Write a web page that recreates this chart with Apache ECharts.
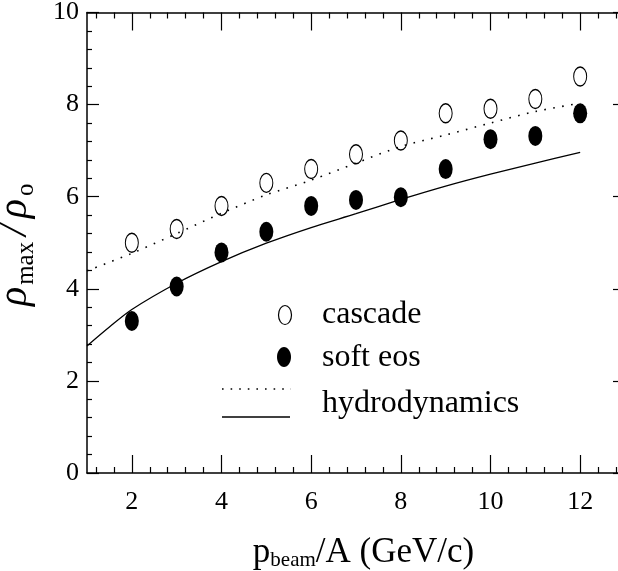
<!DOCTYPE html>
<html>
<head>
<meta charset="utf-8">
<script src="https://cdn.jsdelivr.net/npm/echarts@6/dist/echarts.min.js"></script>
<style>
html,body{margin:0;padding:0;background:#fff;}
#chart{width:618px;height:571px;}
</style>
</head>
<body>
<div id="chart"></div>
<script>
// ---- data ----
var beamMomenta = [2, 3, 4, 5, 6, 7, 8, 9, 10, 11, 12];
var cascadeValues = [5.00, 5.30, 5.80, 6.30, 6.60, 6.92, 7.22, 7.81, 7.91, 8.12, 8.61];
var softEosValues = [3.30, 4.05, 4.79, 5.24, 5.80, 5.93, 5.99, 6.60, 7.25, 7.32, 7.81];
var dottedX = [1, 2, 3, 4, 5, 6, 7, 8, 9, 10, 11, 12];
var dottedValues = [4.39, 4.77, 5.20, 5.64, 6.04, 6.36, 6.73, 7.09, 7.34, 7.60, 7.85, 8.03];
var hydroX = [1, 1.5, 2, 3, 4, 5, 6, 7, 8, 9, 10, 11, 12];
var hydroValues = [2.76, 3.17, 3.55, 4.12, 4.59, 4.99, 5.33, 5.63, 5.94, 6.23, 6.49, 6.73, 6.96];
var xTickLabels = [2, 4, 6, 8, 10, 12];
var yTickLabels = [0, 2, 4, 6, 8, 10];
var legendNames = ['cascade', 'soft eos', 'hydrodynamics'];

var X_MIN = 1, X_MAX = 13, Y_MIN = 0, Y_MAX = 10;
var xMinor = [];
for (var v = 1.2; v < X_MAX - 0.01; v += 0.4) {
  var r = Math.round(v * 10) / 10;
  if (Math.abs(r / 2 - Math.round(r / 2)) > 1e-6) xMinor.push(r);
}

function zip(xs, ys) { return xs.map(function (x, i) { return [x, ys[i]]; }); }

var FONT = '"Liberation Serif", "DejaVu Serif", serif';
var chart = echarts.init(document.getElementById('chart'), null, {renderer: 'canvas'});

function xAx(pos, ticks, len, showLine, showLabel, name) {
  var a = {
    type: 'value', position: pos, min: X_MIN, max: X_MAX,
    axisLine: {show: showLine, onZero: false, lineStyle: {color: '#000', width: 1.5}},
    axisTick: {show: true, inside: true, length: len, customValues: ticks, lineStyle: {color: '#000', width: 1.2}},
    axisLabel: {show: showLabel, customValues: ticks, color: '#000', fontFamily: FONT, fontSize: 26, margin: 16},
    splitLine: {show: false}
  };
  if (name) {
    a.name = name;
    a.nameLocation = 'middle';
    a.nameGap = 61;
    a.nameTextStyle = {
      color: '#000',
      padding: [0, 0, 0, 15],
      rich: {
        m: {fontFamily: FONT, fontSize: 35, color: '#000'},
        s: {fontFamily: FONT, fontSize: 21, color: '#000', padding: [16, 0, 0, 0]}
      }
    };
  }
  return a;
}
function yAx(pos, showLabel, name) {
  var a = {
    type: 'value', position: pos, min: Y_MIN, max: Y_MAX, interval: 2,
    axisLine: {show: true, onZero: false, lineStyle: {color: '#000', width: 1.5}},
    axisTick: {show: true, inside: true, length: 12, lineStyle: {color: '#000', width: 1.2}},
    minorTick: {show: true, splitNumber: 5, length: 5, lineStyle: {color: '#000', width: 1.2}},
    axisLabel: {show: showLabel, color: '#000', fontFamily: FONT, fontSize: 26, margin: 8},
    splitLine: {show: false}
  };
  if (name) {
    a.name = name;
    a.nameLocation = 'middle';
    a.nameGap = 48;
    a.nameRotate = 90;
    a.nameTextStyle = {
      color: '#000',
      rich: {
        r: {fontFamily: FONT, fontSize: 40, fontStyle: 'italic', color: '#000', padding: [0, 2, 0, 0]},
        d: {fontFamily: FONT, fontSize: 42, fontStyle: 'italic', color: '#000', padding: [0, 6, 0, 4]},
        s: {fontFamily: FONT, fontSize: 25, color: '#000', padding: [23, 2, 0, 0]},
        o: {fontFamily: FONT, fontSize: 25, color: '#000', padding: [23, 4, 0, 1]}
      }
    };
  }
  return a;
}

var option = {
  backgroundColor: '#fff',
  animation: false,
  grid: {left: 87, top: 12.5, right: -7, bottom: 98, containLabel: false, outerBoundsMode: 'none'},
  xAxis: [
    xAx('bottom', xTickLabels, 18, true, true, '{m|p}{s|beam}{m|/A (GeV/c)}'),
    xAx('bottom', xMinor, 6, false, false),
    xAx('top', xTickLabels, 18, true, false),
    xAx('top', xMinor, 6, false, false)
  ],
  yAxis: [
    yAx('left', true, '{r|ρ}{s|max}{d|/}{r|ρ}{o|o}'),
    yAx('right', false)
  ],
  series: [
    {
      name: 'dotted', type: 'line', data: zip(dottedX, dottedValues), smooth: 0.3,
      showSymbol: false, symbol: 'none',
      lineStyle: {color: '#000', width: 1.6, type: [1.6, 7.4], cap: 'butt'}, z: 2
    },
    {
      name: legendNames[2], type: 'line', data: zip(hydroX, hydroValues), smooth: 0.3,
      showSymbol: false, symbol: 'none',
      lineStyle: {color: '#000', width: 1.3}, z: 2
    },
    {
      name: legendNames[0], type: 'scatter', data: zip(beamMomenta, cascadeValues),
      symbol: 'circle', symbolSize: [13, 19],
      itemStyle: {color: 'rgba(0,0,0,0)', borderColor: '#000', borderWidth: 1.2, opacity: 1}, z: 3
    },
    {
      name: legendNames[1], type: 'scatter', data: zip(beamMomenta, softEosValues),
      symbol: 'circle', symbolSize: [14, 20],
      itemStyle: {color: '#000', borderColor: '#000', borderWidth: 0, opacity: 1}, z: 3
    }
  ],
  graphic: [
    {type: 'ellipse', shape: {cx: 285, cy: 315, rx: 6.5, ry: 9.5}, style: {fill: 'none', stroke: '#000', lineWidth: 1.2}},
    {type: 'ellipse', shape: {cx: 284, cy: 357, rx: 7, ry: 10}, style: {fill: '#000', stroke: '#000', lineWidth: 0}},
    {type: 'line', shape: {x1: 222, y1: 389, x2: 291, y2: 389}, style: {stroke: '#000', lineWidth: 1.6, lineDash: [1.6, 7.0]}},
    {type: 'line', shape: {x1: 222, y1: 417, x2: 290, y2: 417}, style: {stroke: '#000', lineWidth: 1.3}},
    {type: 'text', style: {text: legendNames[0], x: 322, y: 315, font: '32px ' + FONT, fill: '#000', textAlign: 'left', textVerticalAlign: 'middle', verticalAlign: 'middle'}},
    {type: 'text', style: {text: legendNames[1], x: 322, y: 358, font: '32px ' + FONT, fill: '#000', textAlign: 'left', textVerticalAlign: 'middle', verticalAlign: 'middle'}},
    {type: 'text', style: {text: legendNames[2], x: 322, y: 404, font: '32px ' + FONT, fill: '#000', textAlign: 'left', textVerticalAlign: 'middle', verticalAlign: 'middle'}}
  ]
};
chart.setOption(option);
</script>
</body>
</html>
